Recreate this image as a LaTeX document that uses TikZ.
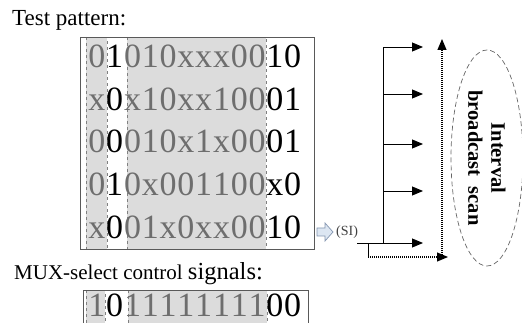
\documentclass[tikz,border=0pt]{standalone}
\usepackage{fontspec}
\setmainfont{Liberation Serif}
\usepackage{xcolor}
\usetikzlibrary{shapes.geometric, arrows.meta, positioning}

\definecolor{dimbit}{HTML}{6E6E6E}
\definecolor{shade}{HTML}{DCDCDC}
\definecolor{siblue}{HTML}{DCE6F2}
\definecolor{siedge}{HTML}{8496B0}

\begin{document}
\begin{tikzpicture}[
    x=1pt, y=-1pt,
    %% ── Styles ─────────────────────────────────────────────────
    caption/.style={anchor=base west, inner sep=0pt, font=\fontsize{23}{23}\selectfont},
    bit/.style={anchor=base, inner sep=0pt, font=\fontsize{34}{34}\selectfont},
    frame/.style={draw=black!65, line width=0.6pt},
    band/.style={draw=black!50, dashed, line width=0.9pt, fill=shade},
    wire/.style={line width=0.9pt, -{Triangle[length=11pt, width=9pt]}},
    dotwire/.style={line width=1.1pt, dash pattern=on 1pt off 1pt,
        -{Triangle[length=11pt, width=9pt]}},
    scan/.style={ellipse, draw=black!60, dash pattern=on 5pt off 3pt, line width=0.7pt,
        minimum width=72pt, minimum height=216pt}
]
\useasboundingbox (0,0) rectangle (522,323);

%% ── Captions ───────────────────────────────────────────────────
\node (capT) [caption] at (12,26) {Test pattern:};
\node (capM) [caption, font=\fontsize{21}{21}\selectfont] at (14,279)
    {MUX-select control {\fontsize{24.5}{24.5}\selectfont signals:}};

%% ── Test pattern block ─────────────────────────────────────────
\draw [band] (86,37) rectangle (107,249);
\draw [band] (127,37) rectangle (266,249);
\draw [frame] (80,37) rectangle (314,249);
\foreach \row [count=\r] in {
    {0,1,0,1,0,x,x,x,0,0,1,0},
    {x,0,x,1,0,x,x,1,0,0,0,1},
    {0,0,0,1,0,x,1,x,0,0,0,1},
    {0,1,0,x,0,0,1,1,0,0,x,0},
    {x,0,0,1,x,0,x,x,0,0,1,0}}{
  \foreach \c [count=\i] in \row {
    \pgfmathtruncatemacro\dark{(\i==2)||(\i>10)}
    \ifnum\dark=1 \def\tc{black}\else\def\tc{dimbit}\fi
    \node (b-\r-\i) [bit, text=\tc] at ({79.1+17.8*\i}, {25.5+42.5*\r}) {\c};
  }
}

%% ── MUX-select row ─────────────────────────────────────────────
\draw [band] (86,290) rectangle (105,326);
\draw [band] (128,290) rectangle (267,326);
\draw [frame] (83,290) rectangle (308,326);
\foreach \c [count=\i] in {1,0,1,1,1,1,1,1,1,1,0,0}{
    \pgfmathtruncatemacro\dark{(\i==2)||(\i>10)}
    \ifnum\dark=1 \def\tc{black}\else\def\tc{dimbit}\fi
    \node (m-\i) [bit, text=\tc] at ({79.1+17.8*\i}, 316.5) {\c};
}

%% ── Scan-in ────────────────────────────────────────────────────
\draw [draw=siedge, fill=siblue, line width=0.7pt]
    (317,228) -- (325,228) -- (325,223) -- (333,232) -- (325,241)
    -- (325,236) -- (317,236) -- cycle;
\coordinate (si) at (333,232);
\node (silab) [right=3pt of si, anchor=west, inner sep=0pt, text=black!75,
    font=\fontsize{14}{14}\selectfont] {(SI)};

%% ── Broadcast fan-out ──────────────────────────────────────────
\coordinate (entry) at (357,243);
\coordinate (stem)  at (383,243);
\coordinate (top)   at (383,47);
\coordinate (tick)  at (368,243);
\coordinate (tickb) at (368,257);
\coordinate (turn)  at (442,257);

\draw [line width=0.9pt] (stem) -- (top);
\draw [wire] (entry) -- (423,243);
\foreach \y in {47,94,144,191}
    \draw [wire] (383,\y) -- (423,\y);
\draw [line width=0.9pt] (tick) -- (tickb);
\draw [dotwire] (tickb) -- (448,257);
\draw [dotwire] (turn) -- (442,39);

%% ── Interval broadcast scan ────────────────────────────────────
\node (ibs) [scan] at (487,158) {};
\node (ibstxt) [rotate=-90, align=center, inner sep=0pt,
    font=\fontsize{20.5}{23}\selectfont\bfseries] at (ibs.center)
    {Interval\\broadcast\ \ scan};

\end{tikzpicture}
\end{document}
